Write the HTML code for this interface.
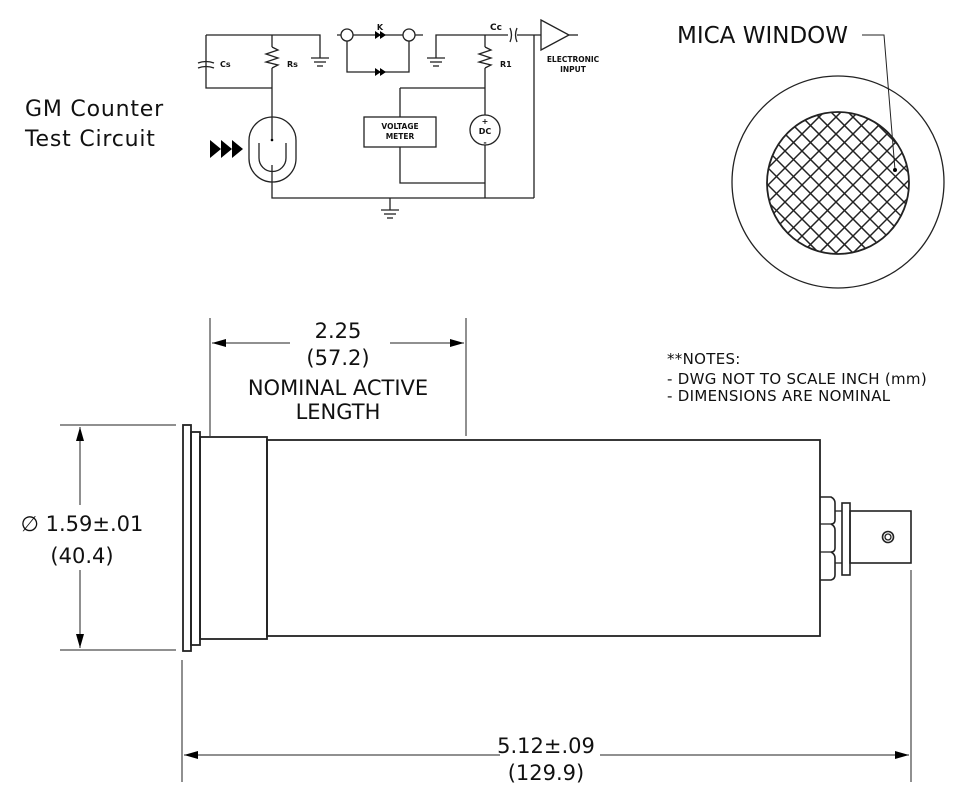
<!DOCTYPE html>
<html><head><meta charset="utf-8"><style>
html,body{margin:0;padding:0;background:#fff}
svg{display:block}
text{font-family:"DejaVu Sans","Liberation Sans",sans-serif;fill:#111}
</style></head><body>
<svg width="976" height="807" viewBox="0 0 976 807" xmlns="http://www.w3.org/2000/svg">
<defs>
<clipPath id="win"><circle cx="838" cy="183" r="71"/></clipPath>
<marker id="ar" markerWidth="14" markerHeight="8" refX="14" refY="4" orient="auto" markerUnits="userSpaceOnUse"><path d="M0,0 L14,4 L0,8 Z" fill="#000"/></marker>
</defs>
<g stroke="#222" stroke-width="1.3" fill="none">
<polyline points="206,35 320,35 320,58"/>
<polyline points="206,35 206,88 272,88"/>
<line x1="272" y1="35" x2="272" y2="47"/>
<polyline points="272,47 278,50 266,54 278,58 266,62 278,65 272,68"/>
<line x1="272" y1="68" x2="272" y2="117"/>
<line x1="311" y1="58" x2="329" y2="58"/><line x1="314" y1="62" x2="326" y2="62"/><line x1="317" y1="66" x2="323" y2="66"/>
<path d="M198,63 Q206,60 214,63 M198,68 Q206,65 214,68"/>
<rect x="249" y="117" width="47" height="65" rx="23.5"/>
<path d="M259,143 L259,158 A13.5,13.5 0 0 0 286,158 L286,143"/>
<line x1="272" y1="117" x2="272" y2="140"/>
<polyline points="272,165 272,198 534,198"/>
<line x1="390" y1="198" x2="390" y2="210"/>
<line x1="381" y1="210" x2="399" y2="210"/><line x1="384" y1="214" x2="396" y2="214"/><line x1="387" y1="218" x2="393" y2="218"/>
<line x1="337" y1="35" x2="423" y2="35"/>
<circle cx="347" cy="35" r="6" fill="#fff"/><circle cx="409" cy="35" r="6" fill="#fff"/>
<polyline points="347,41 347,72 409,72 409,41"/>
<polyline points="436,58 436,35 508,35"/>
<line x1="427" y1="58" x2="445" y2="58"/><line x1="430" y1="62" x2="442" y2="62"/><line x1="433" y1="66" x2="439" y2="66"/>
<path d="M510,28 Q513,35 510,42 M517,28 Q514,35 517,42"/>
<line x1="517" y1="35" x2="541" y2="35"/>
<polygon points="541,20 569,35 541,50"/>
<line x1="569" y1="35" x2="578" y2="35"/>
<line x1="485" y1="35" x2="485" y2="47"/>
<polyline points="485,47 491,50 479,54 491,58 479,62 491,65 485,68"/>
<line x1="485" y1="68" x2="485" y2="115"/>
<line x1="485" y1="145" x2="485" y2="198"/>
<polyline points="400,88 485,88"/>
<polyline points="400,88 400,117"/><polyline points="400,147 400,183 485,183"/>
<rect x="364" y="117" width="72" height="30"/>
<circle cx="485" cy="130" r="15"/>
<line x1="534" y1="35" x2="534" y2="198"/>
<circle cx="838" cy="182" r="106"/>
<g clip-path="url(#win)" stroke-width="1.5">
<path d="M700,100 L980,380 M700,117 L980,397 M700,83 L980,363 M700,134 L980,414 M700,66 L980,346 M700,151 L980,431 M700,49 L980,329 M700,168 L980,448 M700,32 L980,312 M700,185 L980,465 M700,15 L980,295 M700,202 L980,482 M700,-2 L980,278 M700,219 L980,499 M700,-19 L980,261 M700,236 L980,516 M700,-36 L980,244 M700,-53 L980,227 M700,-70 L980,210 M700,-87 L980,193"/>
<path d="M700,270 L980,-10 M700,253 L980,-27 M700,287 L980,7 M700,236 L980,-44 M700,304 L980,24 M700,219 L980,-61 M700,321 L980,41 M700,202 L980,-78 M700,338 L980,58 M700,185 L980,-95 M700,355 L980,75 M700,168 L980,-112 M700,372 L980,92 M700,151 L980,-129 M700,389 L980,109 M700,406 L980,126 M700,423 L980,143 M700,440 L980,160 M700,457 L980,177"/>
</g>
<circle cx="838" cy="183" r="71" stroke-width="1.8"/>
<polyline points="862,35 884,35 895,170" stroke-width="1"/>
<rect x="183" y="425" width="8" height="226" stroke-width="1.8"/>
<rect x="191" y="432" width="9" height="213" stroke-width="1.8"/>
<rect x="200" y="437" width="67" height="202" stroke-width="1.8"/>
<rect x="267" y="440" width="553" height="196" stroke-width="1.8"/>
<path d="M820,497 L831,497 Q835,499 835,503 L835,520 Q835,524 831,524 Q835,526 835,530 L835,548 Q835,552 831,552 Q835,554 835,558 L835,575 Q835,579 831,580 L820,580" stroke-width="1.6"/>
<line x1="820" y1="524" x2="831" y2="524"/><line x1="820" y1="552" x2="831" y2="552"/>
<line x1="835" y1="511" x2="842" y2="511"/><line x1="835" y1="563" x2="842" y2="563"/>
<rect x="842" y="503" width="8" height="72" stroke-width="1.6"/>
<rect x="850" y="511" width="61" height="52" stroke-width="1.6"/>
<circle cx="888" cy="537" r="5.5" stroke-width="1.6"/><circle cx="888" cy="537" r="3"/>
<g stroke-width="1">
<line x1="60" y1="425" x2="176" y2="425"/><line x1="60" y1="650" x2="176" y2="650"/>
<line x1="80" y1="505" x2="80" y2="427" marker-end="url(#ar)"/>
<line x1="80" y1="570" x2="80" y2="648" marker-end="url(#ar)"/>
<line x1="210" y1="318" x2="210" y2="436"/><line x1="466" y1="318" x2="466" y2="436"/>
<line x1="290" y1="343" x2="212" y2="343" marker-end="url(#ar)"/>
<line x1="390" y1="343" x2="464" y2="343" marker-end="url(#ar)"/>
<line x1="182" y1="660" x2="182" y2="782"/><line x1="911" y1="570" x2="911" y2="782"/>
<line x1="500" y1="755" x2="184" y2="755" marker-end="url(#ar)"/>
<line x1="600" y1="755" x2="909" y2="755" marker-end="url(#ar)"/>
</g>
</g>
<g fill="#000">
<polygon points="210,140 221,149 210,158"/><polygon points="221,140 232,149 221,158"/><polygon points="232,140 243,149 232,158"/>
<polygon points="375,31 381,35 375,39"/><polygon points="380,31 386,35 380,39"/>
<polygon points="375,68 381,72 375,76"/><polygon points="380,68 386,72 380,76"/>
<circle cx="272" cy="140" r="1.3"/><circle cx="895" cy="170" r="2"/>
</g>
<g font-weight="bold" font-size="8">
<text x="380" y="30" text-anchor="middle">K</text>
<text x="220" y="67">Cs</text>
<text x="287" y="67">Rs</text>
<text x="490" y="30" font-size="9">Cc</text>
<text x="500" y="67">R1</text>
<text x="573" y="62" text-anchor="middle" font-size="7.5">ELECTRONIC</text>
<text x="573" y="72" text-anchor="middle" font-size="7.5">INPUT</text>
<text x="400" y="129" text-anchor="middle" font-size="7.5">VOLTAGE</text>
<text x="400" y="139" text-anchor="middle" font-size="7.5">METER</text>
<text x="485" y="124" text-anchor="middle" font-size="8">+</text>
<text x="485" y="134" text-anchor="middle" font-size="8">DC</text>
<text x="485" y="145" text-anchor="middle" font-size="8">-</text>
</g>
<text x="25" y="116" font-size="22" letter-spacing="0.8">GM Counter</text>
<text x="25" y="146" font-size="22" letter-spacing="0.8">Test Circuit</text>
<text x="677" y="43" font-size="23">MICA WINDOW</text>
<g font-size="21" text-anchor="middle">
<text x="338" y="338">2.25</text>
<text x="338" y="365">(57.2)</text>
<text x="338" y="395">NOMINAL ACTIVE</text>
<text x="338" y="419">LENGTH</text>
<text x="82" y="531">∅ 1.59±.01</text>
<text x="82" y="563">(40.4)</text>
<text x="546" y="753">5.12±.09</text>
<text x="546" y="780">(129.9)</text>
</g>
<g font-size="15" letter-spacing="0.3">
<text x="667" y="364">**NOTES:</text>
<text x="667" y="384">- DWG NOT TO SCALE INCH  (mm)</text>
<text x="667" y="401">- DIMENSIONS ARE NOMINAL</text>
</g>
</svg>
</body></html>
